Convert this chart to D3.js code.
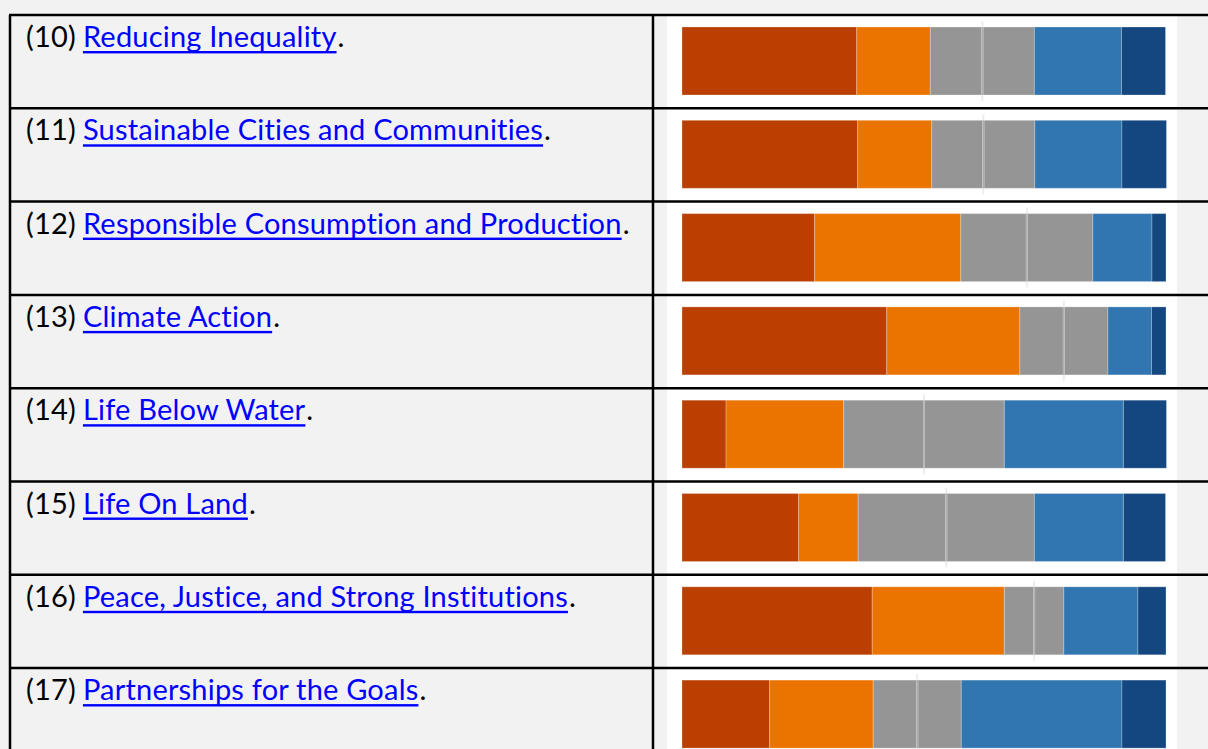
<!DOCTYPE html>
<html>
<head>
<meta charset="utf-8">
<script src="https://cdn.jsdelivr.net/npm/d3@7"></script>
<style>
  html, body { margin: 0; padding: 0; background: #f2f2f2; }
  svg { display: block; }
</style>
</head>
<body>
<svg class="js-render-chart"></svg>
<script>
"use strict";

//data

const goalNums = [10, 11, 12, 13, 14, 15, 16, 17];

const goalNames = [
  "Reducing Inequality",
  "Sustainable Cities and Communities",
  "Responsible Consumption and Production",
  "Climate Action",
  "Life Below Water",
  "Life On Land",
  "Peace, Justice, and Strong Institutions",
  "Partnerships for the Goals"
];

const levels = ["level1", "level2", "level3", "level4", "level5"];

const level1 = [36.1, 36.3, 27.4, 42.3, 9.1, 24.1, 39.3, 18.1];
const level2 = [15.2, 15.3, 30.2, 27.5, 24.3, 12.3, 27.3, 21.4];
const level3 = [21.5, 21.3, 27.3, 18.2, 33.2, 36.4, 12.3, 18.2];
const level4 = [18.0, 18.0, 12.2, 9.0, 24.6, 18.4, 15.3, 33.2];
const level5 = [9.1, 9.2, 2.9, 3.0, 8.9, 8.7, 5.8, 9.1];

const levelColors = ["#bb3f00", "#eb7400", "#959595", "#3276b1", "#144780"];

//svg params

const params = {
  w: 1208,
  h: 749,
  top: 15,
  rowH: 93.3,
  left: 10,
  divider: 653,
  imgL: 667,
  imgR: 1177
};

const rows = goalNums.map((n, i) => ({
  num: n,
  name: goalNames[i],
  level1: level1[i],
  level2: level2[i],
  level3: level3[i],
  level4: level4[i],
  level5: level5[i]
}));

const svg = d3.select(".js-render-chart")
  .attr("width", params.w)
  .attr("height", params.h);

const y = d3.scaleBand()
  .domain(goalNums)
  .range([params.top, params.top + params.rowH * goalNums.length]);

const x = d3.scaleLinear()
  .domain([0, 100])
  .range([682, 1166]);

const color = d3.scaleOrdinal()
  .domain(levels)
  .range(levelColors);

//white picture cells

svg.append("g")
  .selectAll("rect")
  .data(rows)
  .join("rect")
  .attr("x", params.imgL)
  .attr("y", d => y(d.num) + 1)
  .attr("width", params.imgR - params.imgL)
  .attr("height", y.bandwidth() - 1)
  .attr("fill", "#ffffff");

//stacked bars

const series = d3.stack().keys(levels)(rows);

const barTop = 12;
const barH = 68;

svg.append("g")
  .selectAll("g")
  .data(series)
  .join("g")
  .attr("fill", d => color(d.key))
  .selectAll("rect")
  .data(d => d)
  .join("rect")
  .attr("x", d => x(d[0]))
  .attr("y", d => y(d.data.num) + barTop)
  .attr("width", d => x(d[1]) - x(d[0]))
  .attr("height", barH)
  .attr("stroke", "#ffffff")
  .attr("stroke-opacity", 0.25)
  .attr("stroke-width", 1);

//neutral midpoint line

const mid = d => x(d.level1 + d.level2 + d.level3 / 2);

svg.append("g")
  .selectAll("line")
  .data(rows)
  .join("line")
  .attr("x1", mid)
  .attr("x2", mid)
  .attr("y1", d => y(d.num) + barTop - 6)
  .attr("y2", d => y(d.num) + barTop + barH + 6)
  .attr("stroke", "#ededed")
  .attr("stroke-width", 2);

svg.append("g")
  .selectAll("line")
  .data(rows)
  .join("line")
  .attr("x1", mid)
  .attr("x2", mid)
  .attr("y1", d => y(d.num) + barTop)
  .attr("y2", d => y(d.num) + barTop + barH)
  .attr("stroke", "#adadad")
  .attr("stroke-width", 1.6);

//labels

const font = "Lato, 'Liberation Sans', sans-serif";
const fontSize = 29;

const labels = svg.append("g")
  .attr("font-family", font)
  .attr("font-size", fontSize)
  .attr("letter-spacing", 0.2);

rows.forEach(d => {
  const by = y(d.num) + 32;
  const pre = labels.append("text")
    .attr("x", 26)
    .attr("y", by)
    .attr("fill", "#000")
    .text(`(${d.num}) `);
  const x1 = 26 + pre.node().getComputedTextLength() + 7;
  const link = labels.append("text")
    .attr("x", x1)
    .attr("y", by)
    .attr("fill", "#0000ff")
    .text(d.name);
  const x2 = x1 + link.node().getComputedTextLength();
  labels.append("rect")
    .attr("x", x1)
    .attr("y", by + 4)
    .attr("width", x2 - x1)
    .attr("height", 2.4)
    .attr("fill", "#0000ff");
  labels.append("text")
    .attr("x", x2 + 1)
    .attr("y", by)
    .attr("fill", "#000")
    .text(".");
});

//table grid

const grid = svg.append("g")
  .attr("stroke", "#000")
  .attr("stroke-width", 2.5);

grid.selectAll("line.h")
  .data(goalNums)
  .join("line")
  .attr("class", "h")
  .attr("x1", params.left - 1)
  .attr("x2", params.w)
  .attr("y1", d => y(d))
  .attr("y2", d => y(d));

grid.selectAll("line.v")
  .data([params.left, params.divider])
  .join("line")
  .attr("class", "v")
  .attr("x1", d => d)
  .attr("x2", d => d)
  .attr("y1", params.top)
  .attr("y2", params.h);
</script>
</body>
</html>
